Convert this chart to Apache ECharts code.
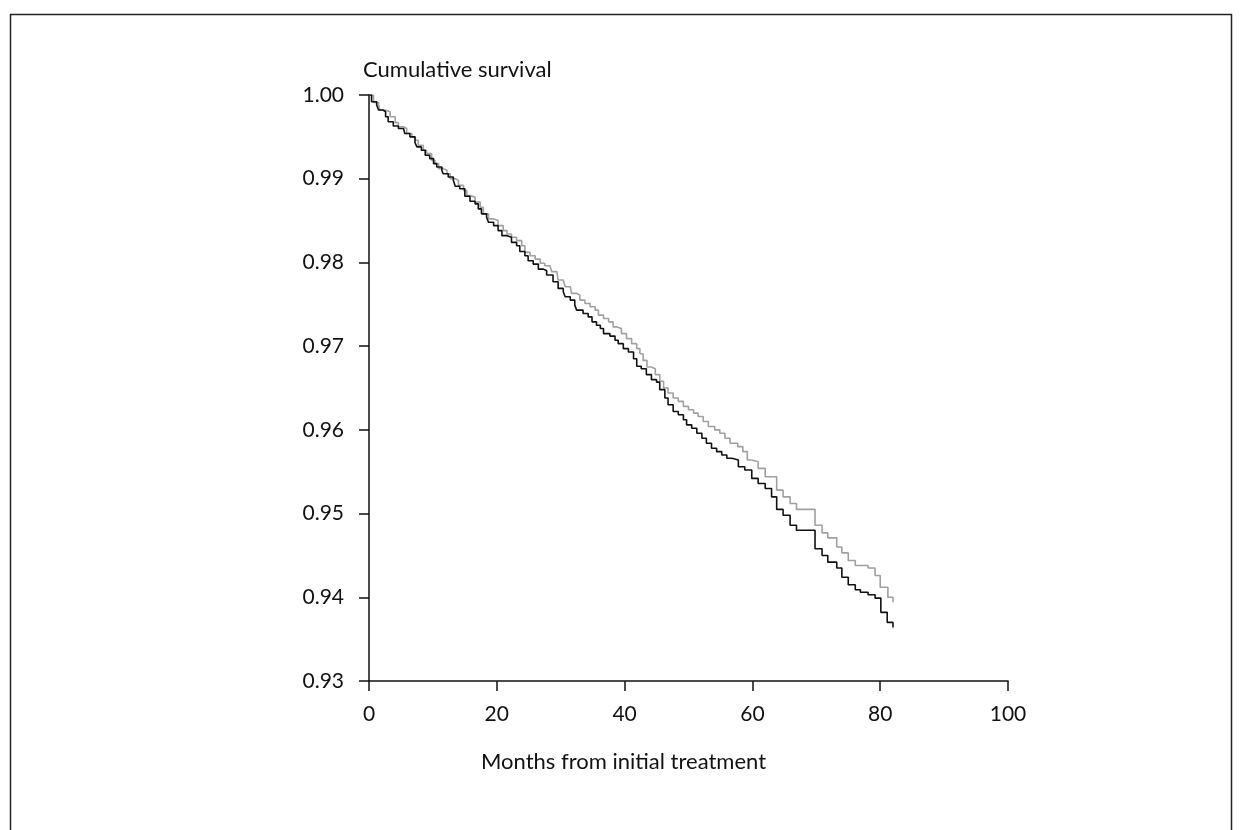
<!DOCTYPE html>
<html>
<head>
<meta charset="utf-8">
<script src="https://cdn.jsdelivr.net/npm/echarts@6/dist/echarts.min.js"></script>
<style>
  html, body { margin: 0; padding: 0; background: #fff; }
  #chart { width: 1244px; height: 830px; }
</style>
</head>
<body>
<div id="chart"></div>
<script>
// Kaplan-Meier survival estimates: event times (months) and survival after each event
const monthsA = [0, 0.4, 1.2, 1.5, 2.2, 2.6, 3.0, 3.8, 4.6, 5.4, 5.6, 6.4, 7.2, 7.5, 8.2, 8.8, 9.5, 10.1, 10.6, 11.4, 11.6,
  12.4, 13.2, 13.5, 14.2, 15.0, 15.8, 16.6, 17.1, 17.6, 18.4, 18.7, 19.5, 20.2, 20.8, 21.6, 22.3, 23.1, 23.6, 24.4, 24.9,
  25.7, 26.5, 27.3, 27.8, 28.8, 29.6, 30.4, 30.7, 31.5, 32.2, 32.5, 33.5, 34.3, 34.9, 35.6, 36.2, 36.7, 37.7, 38.5, 39.0,
  39.8, 40.6, 41.4, 41.9, 42.6, 43.4, 44.2, 45.0, 45.5, 46.3, 46.8, 47.6, 48.4, 49.2, 49.7, 50.5, 51.3, 52.1, 52.8, 53.6,
  54.4, 55.2, 56.0, 56.8, 57.8, 58.8, 59.9, 60.9, 62.0, 63.0, 63.8, 64.8, 65.9, 66.9, 69.8, 70.9, 71.8, 73.2, 74.0, 75.0,
  76.1, 76.9, 78.1, 79.2, 80.1, 81.1, 82.0];
const survivalA = [1.0, 0.9992, 0.9988, 0.9982, 0.9980, 0.9974, 0.9968, 0.9963, 0.9960, 0.9958, 0.9954, 0.9950, 0.9943, 0.9938, 0.9934, 0.9928, 0.9924, 0.9918, 0.9914, 0.9910, 0.9906,
  0.9902, 0.9898, 0.9891, 0.9888, 0.9879, 0.9873, 0.9870, 0.9864, 0.9858, 0.9854, 0.9848, 0.9844, 0.9838, 0.9832, 0.9830, 0.9824, 0.9820, 0.9813, 0.9808, 0.9802,
  0.9798, 0.9792, 0.9790, 0.9785, 0.9777, 0.9769, 0.9765, 0.9759, 0.9755, 0.9749, 0.9743, 0.9739, 0.9735, 0.9729, 0.9725, 0.9721, 0.9715, 0.9712, 0.9707, 0.9703,
  0.9697, 0.9693, 0.9685, 0.9676, 0.9673, 0.9666, 0.9660, 0.9657, 0.9648, 0.9638, 0.9630, 0.9622, 0.9618, 0.9612, 0.9606, 0.9602, 0.9596, 0.9590, 0.9584, 0.9578,
  0.9574, 0.9570, 0.9566, 0.9564, 0.9556, 0.9552, 0.9542, 0.9536, 0.9530, 0.9520, 0.9505, 0.9498, 0.9486, 0.9480, 0.9458, 0.9450, 0.9442, 0.9435, 0.9424, 0.9415,
  0.9409, 0.9406, 0.9403, 0.9399, 0.9382, 0.9370, 0.9364];

const monthsB = [0, 0.7, 1.5, 1.7, 2.5, 3.3, 4.1, 4.6, 5.4, 5.9, 6.7, 7.2, 7.7, 8.5, 9.0, 9.8, 10.3, 10.9, 11.6, 12.2,
  12.7, 13.5, 14.0, 14.8, 15.3, 15.8, 16.6, 17.4, 17.9, 18.7, 19.5, 20.2, 21.0, 21.6, 22.3, 23.1, 23.9, 24.4, 25.2, 26.0,
  26.8, 27.5, 28.3, 28.6, 29.4, 29.6, 30.4, 30.7, 31.5, 31.7, 32.5, 33.0, 33.8, 34.6, 35.4, 35.9, 36.7, 37.5, 38.2, 38.8,
  39.5, 40.3, 41.1, 41.9, 42.4, 42.9, 43.5, 44.2, 44.8, 45.5, 46.1, 46.8, 47.6, 48.4, 49.2, 50.0, 50.8, 51.5, 52.3, 53.1,
  54.1, 54.9, 55.7, 56.5, 57.7, 58.5, 59.2, 59.9, 60.9, 62.0, 63.8, 64.8, 65.9, 66.9, 69.8, 70.9, 71.8, 73.2, 74.0, 75.0,
  76.1, 78.1, 79.2, 80.0, 81.2, 82.0];
const survivalB = [1.0, 0.9991, 0.9988, 0.9982, 0.9980, 0.9974, 0.9967, 0.9962, 0.9960, 0.9954, 0.9950, 0.9946, 0.9940, 0.9934, 0.9930, 0.9922, 0.9918, 0.9912, 0.9910, 0.9906,
  0.9900, 0.9898, 0.9892, 0.9886, 0.9880, 0.9878, 0.9872, 0.9866, 0.9858, 0.9852, 0.9850, 0.9844, 0.9838, 0.9834, 0.9830, 0.9826, 0.9820, 0.9812, 0.9808, 0.9804,
  0.9799, 0.9796, 0.9794, 0.9789, 0.9787, 0.9779, 0.9777, 0.9771, 0.9769, 0.9763, 0.9761, 0.9755, 0.9751, 0.9747, 0.9743, 0.9737, 0.9733, 0.9729, 0.9723, 0.9721,
  0.9715, 0.9709, 0.9703, 0.9697, 0.9691, 0.9683, 0.9675, 0.9673, 0.9666, 0.9658, 0.9650, 0.9644, 0.9638, 0.9634, 0.9628, 0.9624, 0.9620, 0.9616, 0.9610, 0.9604,
  0.9600, 0.9596, 0.9590, 0.9584, 0.9580, 0.9574, 0.9564, 0.9562, 0.9554, 0.9544, 0.9528, 0.9520, 0.9512, 0.9505, 0.9486, 0.9477, 0.9471, 0.9460, 0.9453, 0.9444,
  0.9438, 0.9435, 0.9426, 0.9412, 0.9400, 0.9394];

const xTicks = [0, 20, 40, 60, 80, 100];
const yTicks = [0.93, 0.94, 0.95, 0.96, 0.97, 0.98, 0.99, 1.00];

const FONT = 'Lato, "Open Sans", sans-serif';
const TICK_SIZE = 21;
const NAME_SIZE = 22;
const pairs = (xs, ys) => xs.map((x, i) => [x, ys[i]]);

const chart = echarts.init(document.getElementById('chart'), null, { renderer: 'canvas' });
chart.setOption({
  animation: false,
  backgroundColor: '#ffffff',
  graphic: [
    {
      type: 'rect',
      shape: { x: 10.5, y: 14.5, width: 1221, height: 840 },
      style: { fill: 'none', stroke: '#222', lineWidth: 1.5 },
      silent: true
    },
    {
      // x-axis title, set slightly left of the axis centre
      type: 'text', left: 481, top: 751,
      style: { text: 'Months from initial treatment', font: NAME_SIZE + 'px ' + FONT, fill: '#111' },
      silent: true
    }
  ],
  grid: { left: 369, top: 95, width: 639, height: 586, containLabel: false },
  xAxis: {
    type: 'value',
    min: xTicks[0], max: xTicks[xTicks.length - 1], interval: 20,
    axisLine: { show: true, onZero: false, lineStyle: { color: '#111', width: 1.5 } },
    axisTick: { show: true, inside: false, length: 10, lineStyle: { color: '#111', width: 1.5 } },
    axisLabel: { fontFamily: FONT, fontSize: TICK_SIZE, color: '#111', margin: 23 },
    splitLine: { show: false }
  },
  yAxis: {
    type: 'value',
    min: yTicks[0], max: yTicks[yTicks.length - 1], interval: 0.01,
    name: 'Cumulative survival',
    nameLocation: 'end', nameGap: 14,
    nameTextStyle: { fontFamily: FONT, fontSize: NAME_SIZE, color: '#111', align: 'left', padding: [0, 0, 0, -6] },
    axisLine: { show: true, onZero: false, lineStyle: { color: '#111', width: 1.5 } },
    axisTick: { show: true, inside: false, length: 10, lineStyle: { color: '#111', width: 1.5 } },
    axisLabel: { fontFamily: FONT, fontSize: TICK_SIZE, color: '#111', margin: 25,
      formatter: v => v.toFixed(2) },
    splitLine: { show: false }
  },
  series: [
    {
      name: 'Group B', type: 'line', step: 'end', symbol: 'none',
      data: pairs(monthsB, survivalB),
      lineStyle: { color: '#a0a0a0', width: 1.6 }, z: 2
    },
    {
      name: 'Group A', type: 'line', step: 'end', symbol: 'none',
      data: pairs(monthsA, survivalA),
      lineStyle: { color: '#111111', width: 1.6 }, z: 3
    }
  ]
});
</script>
</body>
</html>
